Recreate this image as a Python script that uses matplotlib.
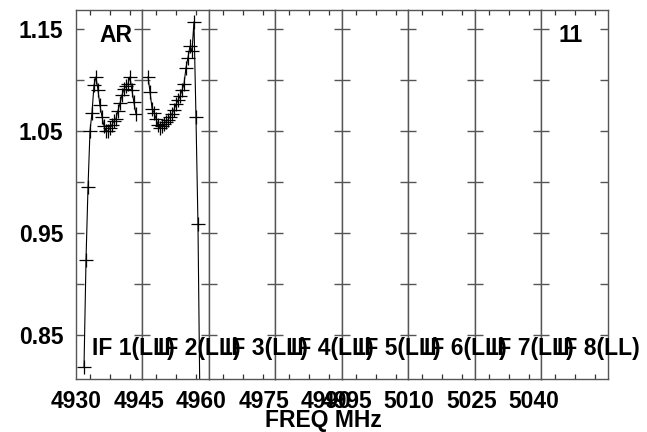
import matplotlib
matplotlib.use("Agg")
import matplotlib.pyplot as plt
import numpy as np

# ---------------- data ----------------
if_names = ["IF 1(LL)", "IF 2(LL)", "IF 3(LL)", "IF 4(LL)",
            "IF 5(LL)", "IF 6(LL)", "IF 7(LL)", "IF 8(LL)"]
band_start = 4929.8          # MHz, left edge of IF 1
if_width = 16.0              # MHz per IF panel
chan_width = 0.48            # MHz per channel

if1_start = 4931.8
if1_amp = [0.819, 0.924, 0.995, 1.050, 1.068, 1.095, 1.103, 1.090, 1.075,
           1.064, 1.055, 1.050, 1.050, 1.053, 1.056, 1.060, 1.062, 1.070,
           1.077, 1.085, 1.091, 1.094, 1.096, 1.103, 1.090, 1.078, 1.067]

if2_start = 4947.2
if2_amp = [1.103, 1.088, 1.072, 1.068, 1.062, 1.056, 1.053, 1.055, 1.057,
           1.059, 1.061, 1.064, 1.067, 1.071, 1.076, 1.080, 1.084, 1.090,
           1.096, 1.112, 1.122, 1.133, 1.128, 1.157, 1.064, 0.959, 0.780]

x_tick_values = [4930, 4945, 4960, 4975, 4990, 4995, 5010, 5025, 5040]
y_tick_values = [0.85, 0.90, 0.95, 1.00, 1.05, 1.10, 1.15]
y_tick_labels = ["0.85", "", "0.95", "", "1.05", "", "1.15"]
source_label = "AR"
page_label = "11"
x_title = "FREQ MHz"

# ---------------- style ----------------
W, H = 647, 432
plt.rcParams['font.family'] = ['Liberation Sans', 'DejaVu Sans']
plt.rcParams['font.weight'] = 'bold'
FS = 16.5
frame_col = "#555555"

fig = plt.figure(figsize=(W / 100, H / 100), dpi=100)
left_px, right_px, top_px, bot_px = 75.7, 608.0, 10.0, 378.5
panel_px = (right_px - left_px) / 8
ylim = (0.8074, 1.1686)

series = {0: (if1_start, if1_amp), 1: (if2_start, if2_amp)}

axes = []
for i in range(8):
    x0 = (left_px + i * panel_px) / W
    ax = fig.add_axes([x0, 1 - bot_px / H, panel_px / W, (bot_px - top_px) / H])
    lo = band_start + i * if_width
    hi = lo + if_width
    ax.set_xlim(lo, hi)
    ax.set_ylim(*ylim)
    for s in ax.spines.values():
        s.set_color(frame_col)
        s.set_linewidth(1.0)
    # y ticks
    ax.set_yticks(y_tick_values)
    if i == 0:
        ax.set_yticklabels(y_tick_labels, fontsize=FS, fontweight='bold')
    else:
        ax.set_yticklabels([])
    ax.tick_params(axis='y', which='major', direction='in', length=5.5,
                   width=1.0, color=frame_col, left=True, right=True, pad=9)
    # x ticks (labels only, zero length) + minor ticks
    xt = [v for v in x_tick_values if lo <= v < hi]
    ax.set_xticks(xt)
    ax.set_xticklabels([str(v) for v in xt], fontsize=FS, fontweight='bold')
    ax.tick_params(axis='x', which='major', length=0, pad=8.5)
    minor = [lo + (14 + 20 * k) / panel_px * if_width for k in range(3)]
    ax.set_xticks(minor, minor=True)
    ax.tick_params(axis='x', which='minor', direction='in', length=3.6,
                   width=0.9, color="#333333", top=True, bottom=True)
    if i in series:
        start, amp = series[i]
        freqs = start + chan_width * np.arange(len(amp))
        ax.plot(freqs, amp, color='black', lw=0.8, marker='+',
                markersize=10, markeredgewidth=0.9)
    axes.append(ax)

# IF labels (drawn in order so they overlap like the original)
for i, name in enumerate(if_names):
    xp = left_px + i * panel_px + 16
    fig.text(xp / W, 1 - 349 / H, name, fontsize=FS, fontweight='bold',
             ha='left', va='center')

fig.text(99 / W, 1 - 35 / H, source_label, fontsize=FS, fontweight='bold',
         ha='left', va='center')
fig.text(558 / W, 1 - 35 / H, page_label, fontsize=FS, fontweight='bold',
         ha='left', va='center')
fig.text(323 / W, 1 - 421 / H, x_title, fontsize=FS, fontweight='bold',
         ha='center', va='center')

fig.savefig("out.png", dpi=100)
